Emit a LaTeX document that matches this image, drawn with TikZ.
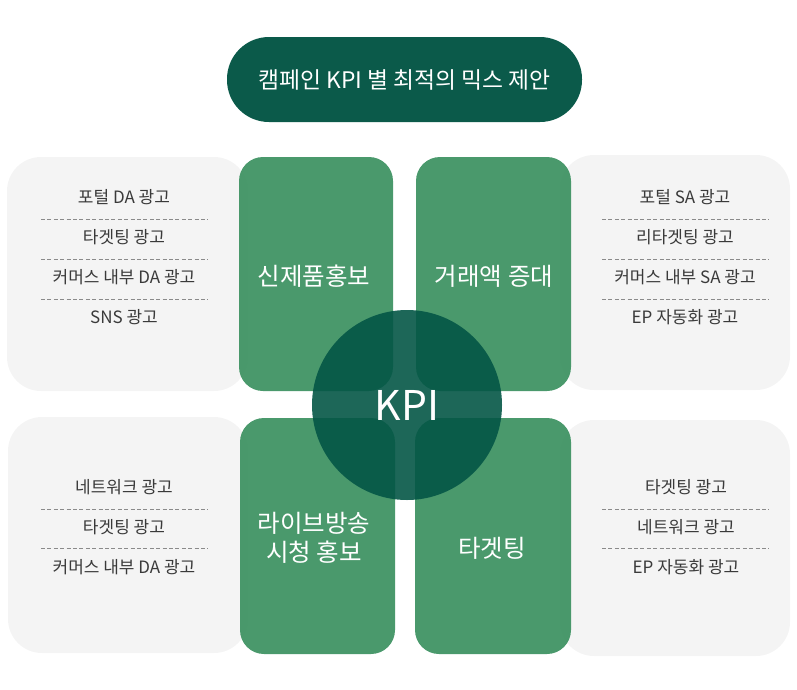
\documentclass[tikz,border=0pt]{standalone}
\usepackage{fontspec}
\setmainfont{Noto Sans CJK KR}
\definecolor{panelgray}{HTML}{F4F4F4}
\definecolor{kpigreen}{HTML}{3F9363}
\definecolor{kpidark}{HTML}{045646}
\definecolor{titlegreen}{HTML}{0B5A4A}
\definecolor{itemtext}{HTML}{3A3A3A}
\definecolor{sepgray}{HTML}{8A8A8A}
\begin{document}
\begin{tikzpicture}[x=1pt,y=-1pt,
    panel/.style={fill=panelgray, rounded corners=34pt, inner sep=0pt, outer sep=0pt},
    kpibox/.style={fill=kpigreen, fill opacity=0.94, rounded corners=24pt, inner sep=0pt},
    boxtext/.style={text=white, align=center, font=\fontsize{24.5}{29}\selectfont},
    item/.style={text=itemtext, font=\fontsize{17}{20}\selectfont},
    sep/.style={draw=sepgray, dash pattern=on 4pt off 2.4pt, line width=0.8pt}]
  \useasboundingbox (0,0) rectangle (797,689);
  % gray lists
  \node[panel, minimum width=241pt, minimum height=234pt] (listNW) at (127.5,274) {};
  \node[panel, minimum width=230pt, minimum height=235pt] (listNE) at (675,272.5) {};
  \node[panel, minimum width=240pt, minimum height=236pt] (listSW) at (128,535) {};
  \node[panel, minimum width=230pt, minimum height=236pt] (listSE) at (675,538) {};
  \foreach \y in {219,259,299} {
    \draw[sep] (41,\y) -- (208,\y);
    \draw[sep] (602,\y) -- (769,\y);
  }
  \foreach \y in {509,548} {
    \draw[sep] (41,\y) -- (208,\y);
    \draw[sep] (602,\y) -- (769,\y);
  }
  \foreach \txt [count=\i] in {포털 DA 광고, 타겟팅 광고, 커머스 내부 DA 광고, SNS 광고}
    \node[item] (nw\i) at (124,157+40*\i) {\txt};
  \foreach \txt [count=\i] in {포털 SA 광고, 리타겟팅 광고, 커머스 내부 SA 광고, EP 자동화 광고}
    \node[item] (ne\i) at (685,157+40*\i) {\txt};
  \foreach \txt [count=\i] in {네트워크 광고, 타겟팅 광고, 커머스 내부 DA 광고}
    \node[item] (sw\i) at (124,447+40*\i) {\txt};
  \foreach \txt [count=\i] in {타겟팅 광고, 네트워크 광고, EP 자동화 광고}
    \node[item] (se\i) at (686,447+40*\i) {\txt};
  % green boxes
  \node[kpibox, minimum width=154pt, minimum height=234pt] (goalNW) at (316,274) {};
  \node[kpibox, minimum width=155pt, minimum height=234pt] (goalNE) at (493.5,274) {};
  \node[kpibox, minimum width=155pt, minimum height=236pt] (goalSW) at (317.5,536) {};
  \node[kpibox, minimum width=156pt, minimum height=236pt] (goalSE) at (493,536) {};
  \node[boxtext] (nameNW) at (314,276) {신제품홍보};
  \node[boxtext] (nameNE) at (494,276) {거래액 증대};
  \node[boxtext] (nameSW) at (314,538) {라이브방송\\시청 홍보};
  \node[boxtext] (nameSE) at (492,548) {타겟팅};
  % center
  \node[circle, fill=kpidark, fill opacity=0.9, text opacity=1, text=white,
        minimum size=190pt, inner sep=0pt, font=\fontsize{41}{48}\selectfont] (kpi) at (407,405) {KPI};
  \node[fill=titlegreen, rounded corners=42pt, minimum width=355pt, minimum height=85pt,
        text=white, font=\fontsize{22.8}{26}\selectfont] (title) at (404.5,79.5) {캠페인 KPI 별 최적의 믹스 제안};
\end{tikzpicture}
\end{document}
